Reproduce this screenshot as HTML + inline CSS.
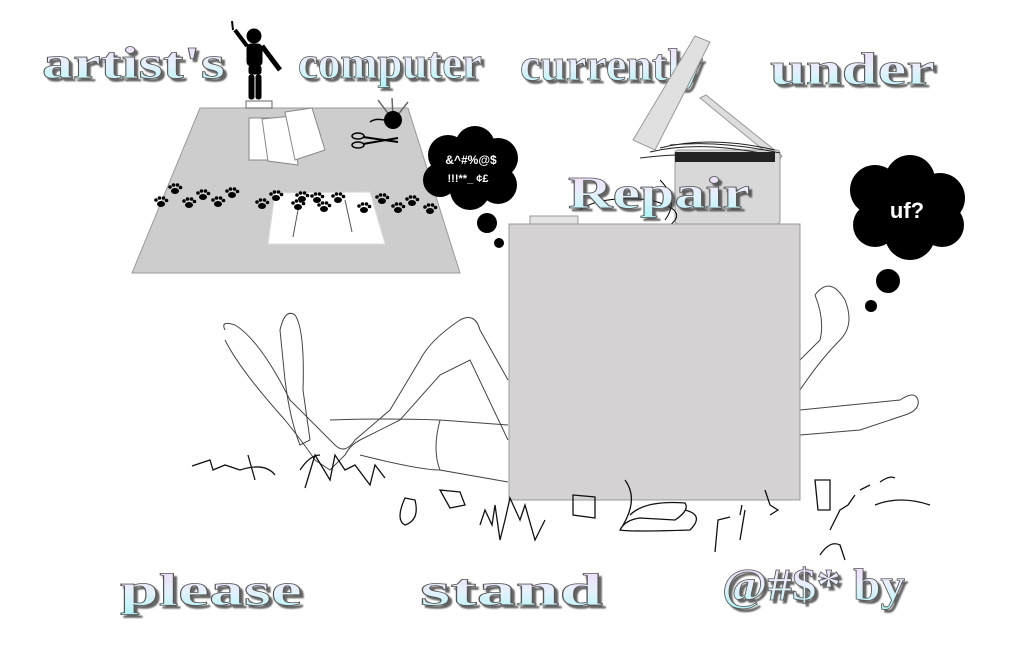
<!DOCTYPE html>
<html><head><meta charset="utf-8"><style>
html,body{margin:0;padding:0;background:#fff;}
svg{display:block;}
.w{font-family:"Liberation Serif",serif;font-weight:bold;font-size:46px;fill:url(#g);stroke:#555;stroke-width:0.8;filter:url(#sh);}
</style></head><body>
<svg width="1025" height="662" viewBox="0 0 1025 662" xmlns="http://www.w3.org/2000/svg">
<defs>
<linearGradient id="g" x1="0" y1="0" x2="0" y2="1"><stop offset="0" stop-color="#f6d4f8"/><stop offset="0.55" stop-color="#e4f2fc"/><stop offset="1" stop-color="#aef4f6"/></linearGradient>
<filter id="sh"><feDropShadow dx="3" dy="3" stdDeviation="0.8" flood-color="#333" flood-opacity="0.75"/></filter>
<g id="paw" fill="#000"><ellipse cx="0" cy="2" rx="4" ry="3"/><circle cx="-5" cy="-2" r="1.8"/><circle cx="-1.5" cy="-4" r="1.8"/><circle cx="2.5" cy="-4" r="1.8"/><circle cx="5.5" cy="-1.5" r="1.8"/></g>
</defs>

<text class="w" x="42" y="78" textLength="183" lengthAdjust="spacingAndGlyphs">artist's</text>
<text class="w" x="298" y="78" textLength="184" lengthAdjust="spacingAndGlyphs">computer</text>
<text class="w" x="520" y="80" textLength="183" lengthAdjust="spacingAndGlyphs">currently</text>
<text class="w" x="770" y="84" textLength="165" lengthAdjust="spacingAndGlyphs">under</text>

<polygon points="200,108 408,108 460,273 132,273" fill="#cdcdcd" stroke="#999"/>
<rect x="246" y="101" width="26" height="7" fill="#fff" stroke="#666"/>
<g fill="#000" stroke="#000">
<circle cx="254" cy="36" r="7"/>
<rect x="247" y="44" width="15" height="22" rx="4"/>
<rect x="249" y="66" width="12" height="8" rx="2"/>
<rect x="249" y="75" width="5" height="24" rx="2"/><rect x="256" y="75" width="5" height="24" rx="2"/>
<line x1="247" y1="46" x2="235" y2="30" stroke-width="4"/>
<line x1="233" y1="30" x2="232" y2="21" stroke-width="2"/>
<line x1="262" y1="46" x2="280" y2="70" stroke-width="5"/>
</g>
<polygon points="249,118 275,118 275,160 249,160" fill="#fff" stroke="#888"/>
<polygon points="262,119 292,116 298,165 268,161" fill="#fff" stroke="#888"/>
<polygon points="285,112 312,108 325,150 295,160" fill="#fff" stroke="#888"/>
<line x1="378" y1="100" x2="390" y2="116" stroke="#666" stroke-width="1.5"/><line x1="392" y1="98" x2="393" y2="116" stroke="#666" stroke-width="1.5"/><line x1="408" y1="102" x2="397" y2="116" stroke="#666" stroke-width="1.5"/>
<circle cx="393" cy="120" r="9" fill="#000"/>
<path d="M384,120 Q375,118 370,122" stroke="#000" fill="none" stroke-width="1.5"/>
<ellipse cx="358" cy="136" rx="6" ry="3" fill="none" stroke="#000" stroke-width="1.5"/>
<ellipse cx="358" cy="145" rx="6" ry="3" fill="none" stroke="#000" stroke-width="1.5"/>
<path d="M363,137 L398,142 M363,144 L398,138" stroke="#000" stroke-width="2"/>
<polygon points="275,193 370,192 385,244 268,244" fill="#fff" stroke="#ddd"/>
<line x1="298" y1="210" x2="293" y2="237" stroke="#555"/><line x1="345" y1="200" x2="352" y2="232" stroke="#555"/>
<use href="#paw" x="175" y="189"/><use href="#paw" x="189" y="203"/><use href="#paw" x="203" y="195"/><use href="#paw" x="218" y="202"/><use href="#paw" x="232" y="193"/><use href="#paw" x="161" y="202"/>
<use href="#paw" x="262" y="204"/><use href="#paw" x="276" y="196"/><use href="#paw" x="298" y="205"/><use href="#paw" x="317" y="198"/><use href="#paw" x="324" y="207"/><use href="#paw" x="338" y="198"/><use href="#paw" x="364" y="208"/><use href="#paw" x="382" y="199"/><use href="#paw" x="398" y="208"/><use href="#paw" x="412" y="201"/><use href="#paw" x="430" y="209"/><use href="#paw" x="302" y="197"/>

<g fill="#000">
<circle cx="448" cy="155" r="20"/><circle cx="475" cy="146" r="20"/><circle cx="498" cy="158" r="20"/><circle cx="440" cy="180" r="17"/><circle cx="470" cy="190" r="20"/><circle cx="498" cy="185" r="19"/><circle cx="470" cy="168" r="25"/>
<circle cx="487" cy="223" r="10"/><circle cx="499" cy="243" r="5"/>
</g>
<text x="471" y="164" font-family="Liberation Sans,sans-serif" font-size="12" font-weight="bold" fill="#fff" text-anchor="middle">&amp;^#%@$</text>
<text x="468" y="182" font-family="Liberation Sans,sans-serif" font-size="11" font-weight="bold" fill="#fff" text-anchor="middle">!!!**_  ¢£</text>
<g fill="#000">
<circle cx="875" cy="190" r="25"/><circle cx="910" cy="180" r="25"/><circle cx="940" cy="198" r="25"/><circle cx="875" cy="225" r="22"/><circle cx="910" cy="235" r="25"/><circle cx="942" cy="225" r="22"/><circle cx="908" cy="210" r="30"/>
<circle cx="888" cy="281" r="12"/><circle cx="871" cy="306" r="6"/>
</g>
<text x="907" y="218" font-family="Liberation Sans,sans-serif" font-size="22" font-weight="bold" fill="#fff" text-anchor="middle">uf?</text>

<polygon points="633,140 695,36 710,42 655,150" fill="#e0e0e0" stroke="#999"/>
<polygon points="700,98 706,95 782,156 778,162" fill="#ddd" stroke="#999"/>
<rect x="675" y="150" width="105" height="74" rx="3" fill="#d8d8d8" stroke="#999"/>
<path d="M650,152 Q700,140 770,155 M660,148 Q710,135 775,150 M670,145 Q720,140 780,153 M640,158 Q700,150 770,160" stroke="#222" fill="none"/>
<rect x="675" y="152" width="100" height="10" fill="#222"/>
<path d="M580,210 Q600,195 650,200 Q690,210 670,225 M660,180 Q680,200 665,220" stroke="#000" fill="none"/>
<text class="w" x="568" y="208" textLength="182" lengthAdjust="spacingAndGlyphs">Repair</text>

<g fill="none" stroke="#444" stroke-width="1">
<path d="M225,330 Q220,320 235,325 Q260,340 290,400 L335,445 Q345,455 355,440 L390,410 L420,360 Q430,340 460,320 Q475,312 480,330 L508,380"/>
<path d="M225,340 Q240,370 285,420 Q305,445 315,460 L330,470 L345,455 Q350,445 360,440 L400,420 L440,375 L470,360 L508,440"/>
<path d="M280,330 Q285,308 295,315 Q305,330 303,390 L310,440 L300,445 Q290,420 285,380 Z"/>
<path d="M330,420 Q380,418 440,420 L508,425 M440,420 Q432,450 440,470 L508,482 M360,455 Q420,470 440,470"/>
<path d="M800,390 Q820,360 840,340 Q855,325 845,300 Q830,275 815,295 Q825,320 820,340 Q810,350 800,360"/>
<path d="M800,410 L900,400 Q915,390 918,400 Q920,410 905,415 L860,430 L800,435"/>
</g>
<rect x="509" y="224" width="291" height="276" fill="#d4d2d2" stroke="#999"/>
<rect x="530" y="216" width="48" height="8" fill="#e4e4e4" stroke="#999"/>
<g fill="none" stroke="#111" stroke-width="1.3">
<path d="M192,466 L210,460 L213,470 L225,465 L240,470 M248,455 L255,480 M240,470 Q265,462 275,475 M300,470 Q310,455 320,455 M305,488 L315,455 L330,480 L335,455 L345,470 L355,465 L370,485 L375,465 L385,478"/>
<path d="M405,498 Q395,520 405,525 Q420,520 415,500 Z M440,490 L460,492 L465,505 L450,508 Z M480,525 L485,510 L492,525 L495,505 L500,540 L505,520 L510,498 L520,520 L525,505 L535,540 L540,530 L545,520"/>
<path d="M573,495 L595,497 L595,518 L573,515 Z M625,480 Q640,500 620,530 M630,515 Q645,500 685,503 Q690,510 675,520 L640,518 Q625,520 620,530 Q630,532 690,530 Q705,515 685,510"/>
<path d="M715,552 L718,520 L730,517 M740,515 L742,505 M765,490 L770,505 L778,510 L770,515 M815,480 L830,480 L830,510 L818,510 Z M830,530 L840,510 L848,505 L855,495 M860,490 L870,485 M875,505 Q900,495 930,505 M880,482 Q890,475 895,478 M820,555 Q830,540 840,545 L845,560 M740,540 L745,510"/>
</g>

<text class="w" x="120" y="605" textLength="182" lengthAdjust="spacingAndGlyphs">please</text>
<text class="w" x="420" y="605" textLength="183" lengthAdjust="spacingAndGlyphs">stand</text>
<text class="w" x="722" y="600" textLength="183" lengthAdjust="spacingAndGlyphs">@#$* by</text>
</svg>
</body></html>
